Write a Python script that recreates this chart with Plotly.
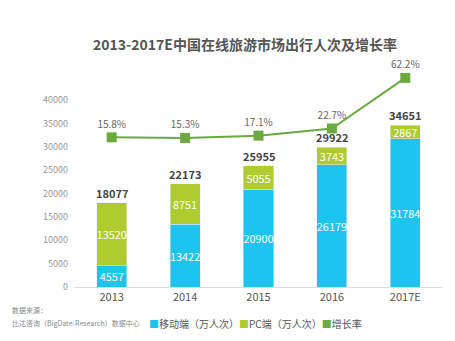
import plotly.graph_objects as go

categories = ["2013", "2014", "2015", "2016", "2017E"]
mobile = [4557, 13422, 20900, 26179, 31784]
pc = [13520, 8751, 5055, 3743, 2867]
totals = [18077, 22173, 25955, 29922, 34651]
growth = [15.8, 15.3, 17.1, 22.7, 62.2]
growth_labels = ["15.8%", "15.3%", "17.1%", "22.7%", "62.2%"]
y_ticks = [0, 5000, 10000, 15000, 20000, 25000, 30000, 35000, 40000]

BLUE = "#1DC4EE"
GREEN = "#B0CB2F"
LINE = "#6BAA40"
FONT = "Noto Sans CJK SC"

# plot area in pixels
L, R, T, B = 75, 12.5, 77, 54
W, H = 455, 341
pw, ph = W - L - R, H - T - B

def px(x):
    return (x - L) / pw

def py(y):
    return (H - B - y) / ph

fig = go.Figure()
fig.add_trace(go.Bar(
    x=categories, y=mobile, marker_color=BLUE, width=0.41,
    text=[str(v) for v in mobile], textposition="inside", insidetextanchor="middle",
    textfont=dict(color="white", size=11, family=FONT), showlegend=False,
    cliponaxis=False, textangle=0,
))
fig.add_trace(go.Bar(
    x=categories, y=pc, marker_color=GREEN, width=0.41,
    text=[str(v) for v in pc], textposition="inside", insidetextanchor="middle",
    textfont=dict(color="white", size=11, family=FONT), showlegend=False,
    cliponaxis=False, textangle=0,
))
fig.add_trace(go.Scatter(
    x=categories, y=growth, yaxis="y2", mode="lines+markers+text",
    line=dict(color=LINE, width=2),
    marker=dict(symbol="square", size=10, color=LINE),
    text=growth_labels, textposition="top center",
    textfont=dict(color="#666666", size=10, family=FONT),
    showlegend=False, cliponaxis=False,
))

# total labels (x given as category index so numeric-looking names are not misread)
annotations = [
    dict(x=i, y=t, xref="x", yref="y", text=str(t), showarrow=False,
         xanchor="center", yanchor="bottom", yshift=0,
         font=dict(color="#444444", size=11, family=FONT, weight="bold"))
    for i, t in enumerate(totals)
]
annotations += [
    dict(text="数据来源：", x=px(10), y=py(310), xref="paper", yref="paper",
         xanchor="left", yanchor="middle", showarrow=False,
         font=dict(size=7, color="#888888", family=FONT)),
    dict(text="比达咨询（BigDate-Research）数据中心", x=px(10), y=py(323),
         xref="paper", yref="paper", xanchor="left", yanchor="middle",
         showarrow=False, font=dict(size=7, color="#888888", family=FONT)),
    dict(text=(f'<span style="color:{BLUE}">■</span>移动端（万人次）'
               f'<span style="color:{GREEN}">■</span>PC端（万人次）'
               f'<span style="color:{LINE}">■</span>增长率'),
         x=px(147), y=py(323), xref="paper", yref="paper",
         xanchor="left", yanchor="middle", showarrow=False,
         font=dict(size=10, color="#555555", family=FONT)),
]

fig.update_layout(
    width=W, height=H,
    margin=dict(l=L, r=R, t=T, b=B),
    paper_bgcolor="white", plot_bgcolor="white",
    barmode="stack",
    uniformtext=dict(minsize=10.5, mode="show"),
    font=dict(family=FONT),
    title=dict(
        text="2013-2017E中国在线旅游市场出行人次及增长率",
        x=245 / W, xanchor="center", xref="container",
        y=1 - 45 / H, yanchor="middle", yref="container",
        font=dict(size=14, color="#555555", family=FONT, weight="bold"),
    ),
    xaxis=dict(
        type="category", range=[-0.5, 4.5],
        showline=True, linecolor="#DDDDDD", linewidth=1,
        showgrid=False, ticks="",
        tickfont=dict(size=11, color="#555555", family=FONT),
    ),
    yaxis=dict(
        range=[0, 45000], tickvals=y_ticks, ticktext=[str(v) for v in y_ticks],
        showgrid=False, zeroline=False, showline=False, ticks="",
        tickfont=dict(size=9, color="#999999", family=FONT),
        ticklabelstandoff=6,
    ),
    yaxis2=dict(
        overlaying="y", side="right", range=[-101.1, 62.9],
        visible=False, showgrid=False, zeroline=False,
    ),
    annotations=annotations,
)

fig.write_html("out.html")
